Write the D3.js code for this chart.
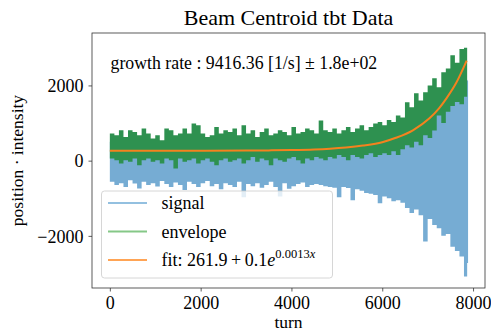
<!DOCTYPE html>
<html>
<head>
<meta charset="UTF-8"/>
<style>
  body { margin: 0; background: #fff; }
  text { font-family: "Liberation Serif", "DejaVu Serif", serif; fill: #000; }
</style>
</head>
<body>
<script type="text/javascript" src="https://d3js.org/d3.v7.min.js"></script>

<script>
// turn samples (every 100 turns)
var turns = [0,100,200,300,400,500,600,700,800,900,
             1000,1100,1200,1300,1400,1500,1600,1700,1800,1900,
             2000,2100,2200,2300,2400,2500,2600,2700,2800,2900,
             3000,3100,3200,3300,3400,3500,3600,3700,3800,3900,
             4000,4100,4200,4300,4400,4500,4600,4700,4800,4900,
             5000,5100,5200,5300,5400,5500,5600,5700,5800,5900,
             6000,6100,6200,6300,6400,6500,6600,6700,6800,6900,
             7000,7100,7200,7300,7400,7500,7600,7700,7800,7870,7890];

// signal band: lower and upper edge
var signalLow = [-560,-650,-600,-700,-520,-610,-740,-560,-650,-600,
                 -690,-540,-620,-700,-580,-650,-780,-560,-620,-700,
                 -600,-540,-680,-620,-760,-600,-650,-700,-560,-970,
                 -620,-680,-600,-720,-650,-560,-700,-950,-600,-750,
                 -680,-620,-580,-700,-650,-620,-650,-680,-700,-720,
                 -970,-700,-730,-1050,-760,-800,-860,-880,-910,-1130,
                 -950,-1000,-1080,-1050,-1120,-1260,-1390,-1300,-1450,-2150,
                 -1550,-1710,-1800,-2000,-1950,-2290,-2400,-2550,-3080,-2720,-2720];
var signalHigh = [500,480,520,470,510,490,530,480,500,470,
                  520,490,500,480,510,490,520,480,500,490,
                  510,480,500,520,490,500,510,480,500,490,
                  520,500,480,510,490,500,520,480,510,500,
                  520,500,530,510,540,520,560,540,580,560,
                  600,620,640,660,700,720,760,800,850,900,
                  900,950,1000,1050,1100,1200,1250,1300,1400,1500,
                  1550,1650,1750,1850,1900,2000,2050,2100,2150,2130,2130];

// envelope band: lower and upper edge
var envelopeLow = [56,12,-76,12,-32,56,-120,12,56,-32,
                   12,-76,56,12,-210,56,-32,12,56,-76,
                   12,56,-32,-120,12,56,-32,12,56,-76,
                   12,100,-32,56,12,-120,56,12,-32,56,
                   100,12,-76,56,12,100,56,12,100,56,
                   150,100,12,150,100,56,150,200,100,150,
                   200,150,250,150,300,410,350,500,410,675,
                   600,800,1200,1000,1300,1450,1560,1500,1700,1820];
var envelopeHigh = [720,675,808,630,808,763,675,852,720,588,
                    675,543,852,808,675,720,852,720,985,940,
                    720,630,675,895,720,808,763,852,675,940,
                    720,808,630,763,852,675,720,808,763,675,
                    895,720,763,852,808,720,1070,808,763,852,
                    720,808,895,763,852,940,808,895,985,1030,
                    940,1080,1030,1200,1150,1550,1420,1790,1600,1820,
                    2000,2190,1950,2350,2450,2800,2600,2970,3000,3060];

// exponential fit
var fitTurns  = [0,1000,2000,3000,3500,4000,4500,4850,5200,5575,6000,6300,6675,7040,7250,7410,7630,7860];
var fitValues = [262,263,264,268,273,281,297,318,350,401,490,608,808,1125,1390,1650,2070,2660];

var xTicks = [0, 2000, 4000, 6000, 8000];
var yTicks = [-2000, 0, 2000];

var legendLabels = ["signal", "envelope", "fit"];

var W = 491, H = 331;
var box = {left: 92, right: 485, top: 33, bottom: 288};

var svg = d3.select("body").append("svg")
    .attr("width", W)
    .attr("height", H);

var xScale = d3.scaleLinear().domain([-393, 8263]).range([box.left, box.right]);
var yScale = d3.scaleLinear().domain([-3386, 3394]).range([box.bottom, box.top]);

var plot = svg.append("g");

// signal (blue band)
var sigData = turns.map(function(t, i){ return {x: t, lo: signalLow[i], hi: signalHigh[i]}; });
plot.append("path")
    .datum(sigData)
    .attr("fill", "#76acd3")
    .attr("d", d3.area()
        .x(function(d){ return xScale(d.x); })
        .y0(function(d){ return yScale(d.lo); })
        .y1(function(d){ return yScale(d.hi); })
        .curve(d3.curveStepAfter));

// envelope (green band)
var envData = envelopeLow.map(function(v, i){ return {x: turns[i], lo: v, hi: envelopeHigh[i]}; });
plot.append("path")
    .datum(envData)
    .attr("fill", "#2e9150")
    .attr("d", d3.area()
        .x(function(d){ return xScale(d.x); })
        .y0(function(d){ return yScale(d.lo); })
        .y1(function(d){ return yScale(d.hi); })
        .curve(d3.curveStepAfter));

// fit line
var fitData = fitTurns.map(function(t, i){ return {x: t, y: fitValues[i]}; });
plot.append("path")
    .datum(fitData)
    .attr("fill", "none")
    .attr("stroke", "#f5821e")
    .attr("stroke-width", 2)
    .attr("d", d3.line()
        .x(function(d){ return xScale(d.x); })
        .y(function(d){ return yScale(d.y); })
        .curve(d3.curveMonotoneX));

// axes
var minus = function(v){ return String(v).replace("-", "\u2212"); };

var xAxis = svg.append("g")
    .attr("transform", "translate(0," + box.bottom + ")")
    .call(d3.axisBottom(xScale).tickValues(xTicks).tickSize(3.5).tickPadding(5).tickFormat(minus));
var yAxis = svg.append("g")
    .attr("transform", "translate(" + box.left + ",0)")
    .call(d3.axisLeft(yScale).tickValues(yTicks).tickSize(3.5).tickPadding(5).tickFormat(minus));

[xAxis, yAxis].forEach(function(a){
  a.select(".domain").remove();
  a.selectAll(".tick line").attr("stroke", "#333").attr("stroke-width", 0.8);
  a.selectAll(".tick text")
    .attr("font-family", "Liberation Serif")
    .attr("font-size", 18)
    .attr("fill", "#000");
});
yAxis.selectAll(".tick text").attr("dy", "0.35em");

// frame
svg.append("rect")
    .attr("x", box.left).attr("y", box.top)
    .attr("width", box.right - box.left).attr("height", box.bottom - box.top)
    .attr("fill", "none")
    .attr("stroke", "#333")
    .attr("stroke-width", 0.8);

// title and labels
svg.append("text")
    .attr("x", (box.left + box.right) / 2).attr("y", 25)
    .attr("text-anchor", "middle")
    .attr("font-size", 22)
    .text("Beam Centroid tbt Data");

svg.append("text")
    .attr("x", (box.left + box.right) / 2).attr("y", 328)
    .attr("text-anchor", "middle")
    .attr("font-size", 17.5)
    .text("turn");

svg.append("text")
    .attr("transform", "translate(22.5," + ((box.top + box.bottom) / 2) + ") rotate(-90)")
    .attr("text-anchor", "middle")
    .attr("font-size", 17.5)
    .text("position \u00b7 intensity");

svg.append("text")
    .attr("x", 110.5).attr("y", 69)
    .attr("font-size", 17.8)
    .text("growth rate : 9416.36 [1/s] \u00b1 1.8e+02");

// legend
var legend = svg.append("g");
legend.append("rect")
    .attr("x", 101.5).attr("y", 191)
    .attr("width", 231).attr("height", 87)
    .attr("rx", 3)
    .attr("fill", "#fff").attr("fill-opacity", 0.8)
    .attr("stroke", "#ccc").attr("stroke-width", 0.8);

var legendColors = ["#93c0e0", "#85c887", "#ffa455"];
legendLabels.forEach(function(lbl, i){
  var y = 203 + i * 28.5;
  legend.append("line")
    .attr("x1", 108).attr("x2", 147)
    .attr("y1", y).attr("y2", y)
    .attr("stroke", legendColors[i]).attr("stroke-width", 2);
  var t = legend.append("text")
    .attr("x", 161.5).attr("y", y + 6)
    .attr("font-size", 18);
  if (lbl === "fit") {
    t.append("tspan").text("fit: 261.9\u2009+\u20090.1");
    t.append("tspan").attr("font-style", "italic").text("e");
    t.append("tspan").attr("font-size", 12.5).attr("dy", -8).text("0.0013");
    t.append("tspan").attr("font-size", 12.5).attr("font-style", "italic").text("x");
  } else {
    t.text(lbl);
  }
});
</script>
</body>
</html>
